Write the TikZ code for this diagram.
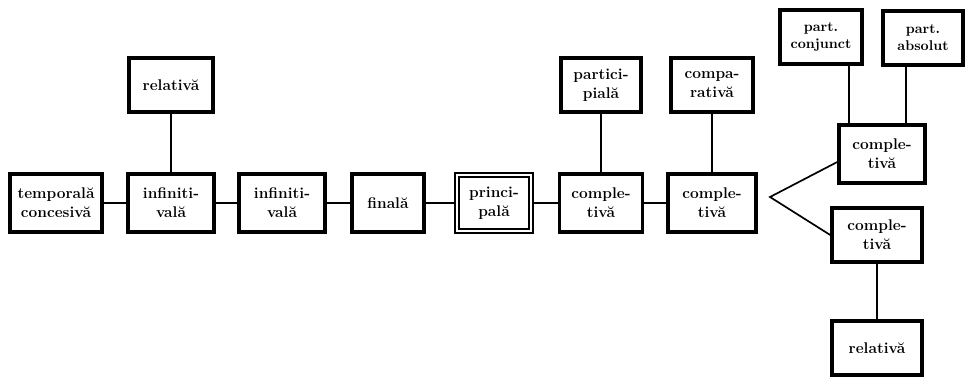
\documentclass[tikz,border=0pt]{standalone}
\usepackage{fontspec}
\usepackage{tikz}
\usetikzlibrary{positioning, calc}
\tikzset{
	boxnode/.style={
			shape=rectangle,
			draw=black,
			line width=2.5pt,
			fill=white,
			minimum width=2.15cm,
			minimum height=1.45cm,
			inner sep=0pt,
			align=center,
			font=\fontsize{11}{13.5}\selectfont\bfseries
		},
	smallbox/.style={
			boxnode,
			minimum height=1.35cm
		},
	mainnode/.style={
			boxnode,
			line width=1.4pt,
			double=white,
			double distance=1.8pt
		},
	linkline/.style={
			line width=1.2pt
		}
}

\begin{document}
\begin{tikzpicture}[x=0.025cm, y=-0.025cm]

  \useasboundingbox (0,0) rectangle (969,377);

  \node[boxnode, minimum width=2.3cm] (t1) at (56,203) {temporală\\concesivă};
  \node[boxnode] (m1) at (171,203) {infiniti-\\vală};
  \node[boxnode] (m2) at (282,203) {infiniti-\\vală};
  \node[boxnode, minimum width=1.8cm] (m3) at (388,203) {finală};
  \node[mainnode, minimum width=1.85cm, minimum height=1.4cm] (p0) at (494,203) {princi-\\pală};
  \node[boxnode, minimum width=2.08cm] (m4) at (601,203) {comple-\\tivă};
  \node[boxnode, minimum width=2.2cm] (m5) at (712,203) {comple-\\tivă};

  \node[smallbox, minimum width=2.1cm] (u1) at (171,85) {relativă};
  \node[smallbox, minimum width=2cm] (u2) at (601,85) {partici-\\pială};
  \node[smallbox, minimum width=2.05cm] (u3) at (712,85) {compa-\\rativă};
  \node[smallbox, minimum width=2.05cm, font=\bfseries] (u4) at (821,37) {part.\\conjunct};
  \node[smallbox, minimum width=2cm, font=\bfseries] (u5) at (923,38) {part.\\absolut};

  \node[boxnode, minimum width=2.15cm] (r1) at (882,154) {comple-\\tivă};
  \node[smallbox, minimum width=2.25cm] (r2) at (877,235) {comple-\\tivă};
  \node[smallbox, minimum width=2.25cm] (r3) at (877,348) {relativă};

  \coordinate (fork) at (770,197);

  \draw[linkline] (t1.east) -- (m1.west);
  \draw[linkline] (m1.east) -- (m2.west);
  \draw[linkline] (m2.east) -- (m3.west);
  \draw[linkline] (m3.east) -- (p0.west);
  \draw[linkline] (p0.east) -- (m4.west);
  \draw[linkline] (m4.east) -- (m5.west);

  \draw[linkline] (u1.south) -- (m1.north);
  \draw[linkline] (u2.south) -- (m4.north);
  \draw[linkline] (u3.south) -- (m5.north);
  \draw[linkline] ([xshift=0.7cm]u4.south) -- ([xshift=0.7cm]u4.south |- r1.north);
  \draw[linkline] ([xshift=-0.43cm]u5.south) -- ([xshift=-0.43cm]u5.south |- r1.north);

  \draw[linkline] ([yshift=-0.2cm]r1.west) -- (fork) -- (r2.west);
  \draw[linkline] (r2.south) -- (r3.north);

\end{tikzpicture}
\end{document}
